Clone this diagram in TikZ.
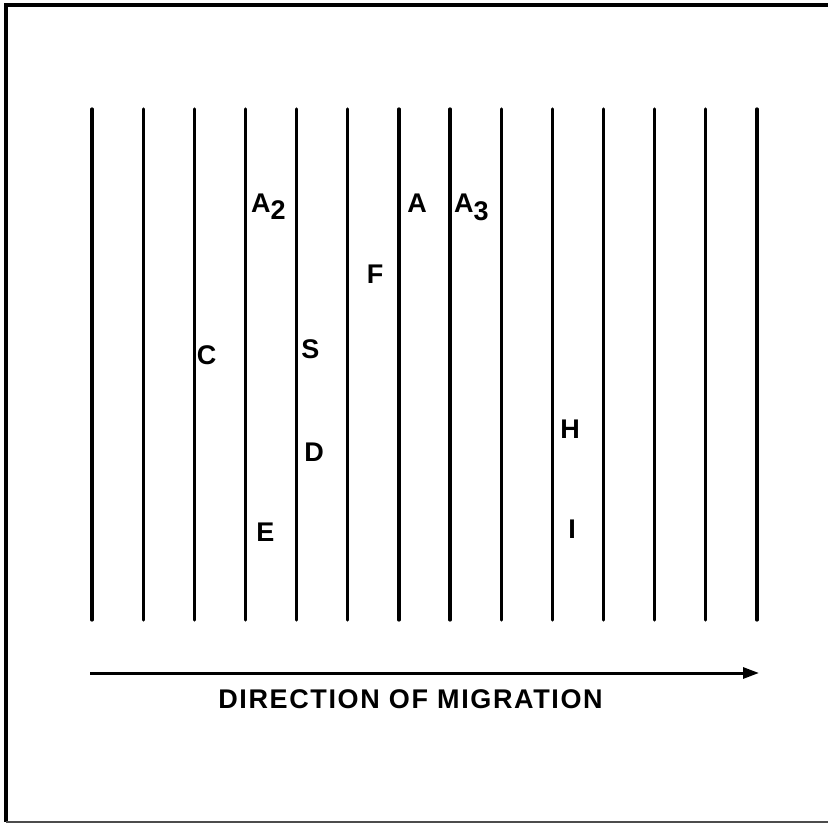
\documentclass[tikz,border=0pt]{standalone}
\usepackage{fontspec}
\setmainfont{Liberation Sans}
\usepackage{tikz}
\usetikzlibrary{arrows.meta}
\tikzset{
  lane/.style    = {line width=3.2pt, line cap=round},
  frame/.style   = {line width=3.5pt},
  band/.style    = {font=\fontsize{27}{32}\selectfont\bfseries, inner sep=0pt, anchor=base},
  mig/.style     = {-{Triangle[length=16pt, width=11pt]}, line width=3pt},
  migtitle/.style= {font=\fontsize{27}{32}\selectfont\bfseries\addfontfeatures{LetterSpace=6},
                    inner sep=0pt, anchor=base},
}
\begin{document}
\begin{tikzpicture}[x=1pt, y=-1pt]
\useasboundingbox (0,0) rectangle (828,824);
% frame
\draw[frame] (828,5) -- (6,5) -- (6,822);
\draw[line width=1.5pt, black!70] (6,822) -- (828,822);
% lanes
\foreach \i in {0,...,13}
  \draw[lane] ({92+51.15*\i},109) -- ({92+51.15*\i},620);
% bands
\node[band, anchor=base west] (bandAtwo) at (251,212) {A\raisebox{-7pt}{2}};
\node[band] (bandA) at (417,212) {A};
\node[band, anchor=base west] (bandAthree) at (454,212) {A\raisebox{-8pt}{3}};
\node[band] (bandF) at (375,283) {F};
\node[band] (bandC) at (206.5,364) {C};
\node[band] (bandS) at (310.5,358) {S};
\node[band] (bandD) at (314,461) {D};
\node[band] (bandH) at (570,438) {H};
\node[band] (bandI) at (572,538) {I};
\node[band] (bandE) at (265.5,541) {E};
% migration
\coordinate (migstart) at (90,673);
\coordinate (migend) at (759,673);
\draw[mig] (migstart) -- (migend);
\node[migtitle] (migtext) at (410.5,708) {DIRECTION OF MIGRATION};
\end{tikzpicture}
\end{document}
